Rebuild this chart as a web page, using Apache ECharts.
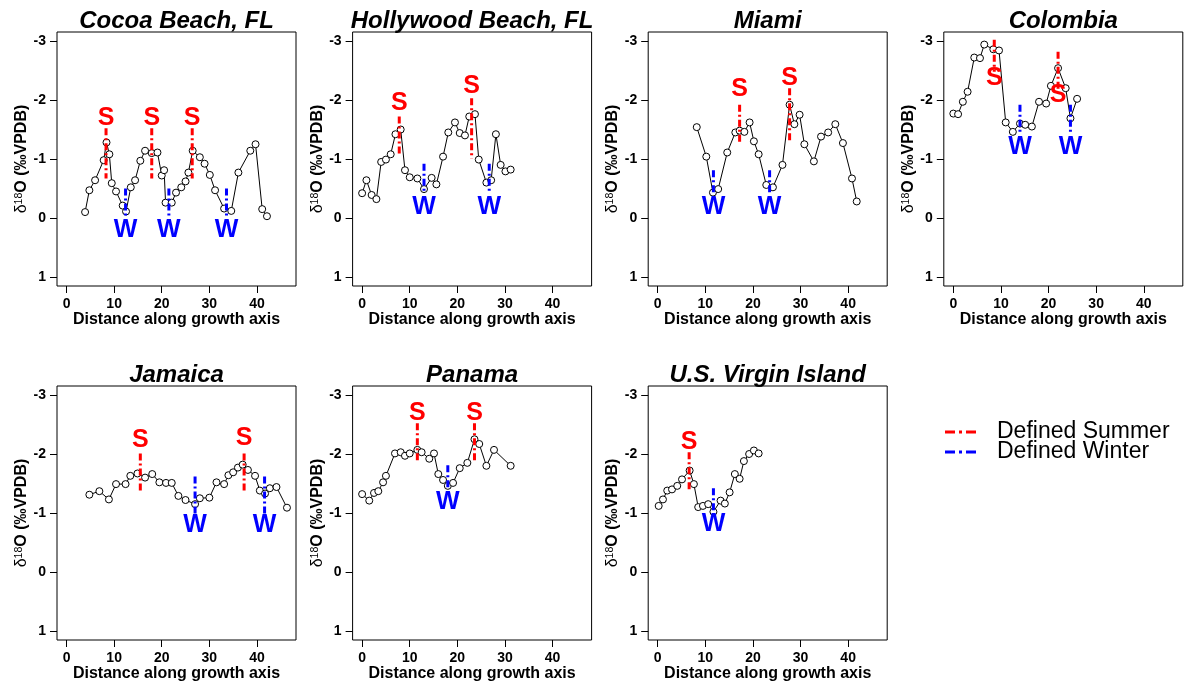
<!DOCTYPE html>
<html>
<head>
<meta charset="utf-8">
<title>Coral δ18O records</title>
<script src="https://cdn.jsdelivr.net/npm/echarts@6/dist/echarts.min.js"></script>
<style>
  html, body { margin: 0; padding: 0; background: #fff; }
  #chart { width: 1184px; height: 687px; }
</style>
</head>
<body>
<div id="chart"></div>
<script>
// Distance along growth axis and δ18O (‰ VPDB) for each site.
// Season marks: [distance, line top, line bottom, letter position] in δ18O units.
const cocoaDist = [3.9,4.8,6.0,7.8,8.4,9.0,9.5,10.4,11.8,12.5,13.5,14.4,15.5,16.5,17.9,19.1,20.0,20.5,20.8,22.1,23.0,24.1,25.0,25.6,26.5,28.0,29.0,30.1,31.2,33.1,34.6,36.1,38.6,39.7,41.1,42.1];
const cocoaD18O = [-0.10,-0.47,-0.64,-0.98,-1.28,-1.08,-0.59,-0.45,-0.21,-0.11,-0.52,-0.64,-0.97,-1.14,-1.10,-1.11,-0.72,-0.81,-0.26,-0.26,-0.43,-0.52,-0.62,-0.77,-1.14,-1.03,-0.92,-0.73,-0.47,-0.16,-0.12,-0.77,-1.14,-1.25,-0.15,-0.03];
const cocoaSummer = [[8.3,-1.52,-0.67,-1.69],[17.9,-1.52,-0.67,-1.69],[26.4,-1.52,-0.67,-1.69]];
const cocoaWinter = [[12.4,-0.50,-0.02,0.20],[21.5,-0.50,-0.02,0.20],[33.6,-0.50,-0.02,0.20]];

const hollywoodDist = [0.0,0.9,2.0,3.0,4.0,5.0,6.0,7.0,8.1,9.0,10.0,11.6,13.0,14.6,15.6,17.0,18.1,19.5,20.5,21.6,22.5,23.7,24.5,26.1,27.1,28.1,29.1,30.1,31.2];
const hollywoodD18O = [-0.42,-0.64,-0.39,-0.32,-0.95,-0.99,-1.08,-1.42,-1.50,-0.81,-0.69,-0.67,-0.49,-0.68,-0.57,-1.04,-1.45,-1.62,-1.44,-1.40,-1.72,-1.76,-0.99,-0.60,-0.64,-1.42,-0.90,-0.79,-0.82];
const hollywoodSummer = [[7.8,-1.72,-1.07,-1.94],[23.0,-2.03,-1.01,-2.23]];
const hollywoodWinter = [[13.0,-0.92,-0.45,-0.18],[26.7,-0.92,-0.45,-0.18]];

const miamiDist = [8.2,10.2,11.6,12.7,14.6,16.3,17.2,18.2,19.3,20.2,21.2,22.8,24.2,26.2,27.7,28.7,29.8,30.8,32.8,34.3,35.8,37.3,38.9,40.8,41.8];
const miamiD18O = [-1.54,-1.04,-0.43,-0.49,-1.11,-1.45,-1.48,-1.46,-1.62,-1.30,-1.08,-0.56,-0.52,-0.90,-1.92,-1.59,-1.75,-1.25,-0.96,-1.38,-1.45,-1.59,-1.27,-0.67,-0.28];
const miamiSummer = [[17.2,-1.92,-1.25,-2.18],[27.7,-2.20,-1.27,-2.37]];
const miamiWinter = [[11.7,-0.81,-0.39,-0.19],[23.5,-0.81,-0.39,-0.19]];

const colombiaDist = [0.0,1.0,2.0,3.0,4.4,5.6,6.5,8.4,9.6,11.0,12.5,14.0,15.1,16.5,18.0,19.5,20.5,22.0,23.6,24.6,26.0];
const colombiaD18O = [-1.77,-1.76,-1.97,-2.14,-2.72,-2.71,-2.94,-2.86,-2.84,-1.62,-1.46,-1.60,-1.58,-1.55,-1.97,-1.94,-2.24,-2.54,-2.20,-1.69,-2.02];
const colombiaSummer = [[8.6,-3.02,-2.48,-2.37],[22.0,-2.82,-2.17,-2.08]];
const colombiaWinter = [[14.0,-1.92,-1.41,-1.21],[24.6,-1.92,-1.41,-1.21]];

const jamaicaDist = [4.8,6.9,8.9,10.4,12.4,13.4,14.9,16.5,18.0,19.5,20.9,22.1,23.5,25.0,27.0,28.0,30.0,31.5,33.1,34.0,35.0,36.0,37.0,38.1,39.6,40.6,41.7,42.7,44.1,46.3];
const jamaicaD18O = [-1.31,-1.37,-1.23,-1.49,-1.49,-1.63,-1.67,-1.60,-1.66,-1.52,-1.51,-1.51,-1.29,-1.22,-1.15,-1.25,-1.26,-1.52,-1.49,-1.64,-1.69,-1.77,-1.82,-1.73,-1.63,-1.38,-1.33,-1.42,-1.44,-1.09];
const jamaicaSummer = [[15.5,-2.01,-1.36,-2.24],[37.3,-2.01,-1.36,-2.27]];
const jamaicaWinter = [[27.0,-1.62,-0.97,-0.80],[41.6,-1.62,-0.97,-0.80]];

const panamaDist = [0.0,1.5,2.5,3.4,4.4,5.0,6.9,8.1,9.0,10.0,11.6,12.5,14.1,15.1,16.0,17.0,18.0,19.1,20.5,22.1,23.6,24.6,26.1,27.7,31.2];
const panamaD18O = [-1.32,-1.21,-1.34,-1.37,-1.52,-1.63,-2.01,-2.03,-1.97,-2.01,-2.07,-2.03,-1.92,-2.01,-1.66,-1.56,-1.46,-1.51,-1.76,-1.85,-2.25,-2.17,-1.80,-2.07,-1.80];
const panamaSummer = [[11.6,-2.52,-1.88,-2.69],[23.6,-2.52,-1.88,-2.69]];
const panamaWinter = [[18.0,-1.81,-1.39,-1.19]];

const usviDist = [0.2,1.1,2.0,3.0,4.1,5.1,6.7,7.6,8.5,9.5,10.6,11.7,13.2,14.1,15.1,16.2,17.2,18.1,19.2,20.2,21.2];
const usviD18O = [-1.12,-1.23,-1.38,-1.40,-1.46,-1.57,-1.72,-1.49,-1.10,-1.12,-1.15,-1.02,-1.21,-1.16,-1.35,-1.66,-1.58,-1.88,-2.00,-2.06,-2.01];
const usviSummer = [[6.6,-2.03,-1.36,-2.20]];
const usviWinter = [[11.7,-1.42,-1.00,-0.82]];

const siteNames = ['Cocoa Beach, FL', 'Hollywood Beach, FL', 'Miami', 'Colombia', 'Jamaica', 'Panama', 'U.S. Virgin Island'];
const distances = [cocoaDist, hollywoodDist, miamiDist, colombiaDist, jamaicaDist, panamaDist, usviDist];
const isotopes = [cocoaD18O, hollywoodD18O, miamiD18O, colombiaD18O, jamaicaD18O, panamaD18O, usviD18O];
const summers = [cocoaSummer, hollywoodSummer, miamiSummer, colombiaSummer, jamaicaSummer, panamaSummer, usviSummer];
const winters = [cocoaWinter, hollywoodWinter, miamiWinter, colombiaWinter, jamaicaWinter, panamaWinter, usviWinter];

const xTicks = [0, 10, 20, 30, 40];
const yTicks = [-3, -2, -1, 0, 1];
const legendLabels = ['Defined Summer', 'Defined Winter'];

const SUMMER_COLOR = '#FF0000';
const WINTER_COLOR = '#0000FF';
const FONT = '"Liberation Sans", Arial, Helvetica, sans-serif';
const DASH = [7, 3, 2, 3];

// Panel layout
const PANEL_LEFT = 57, PANEL_STEP = 295.6, PANEL_W = 239, PANEL_H = 254;
const ROW_TOP = [32, 386];

function markerRenderer(letter, color) {
  return function (params, api) {
    const x = api.value(0);
    const top = api.coord([x, api.value(1)]);
    const bottom = api.coord([x, api.value(2)]);
    const mark = api.coord([x, api.value(3)]);
    return {
      type: 'group',
      children: [
        {
          type: 'line',
          shape: { x1: top[0], y1: top[1], x2: bottom[0], y2: bottom[1] },
          style: { stroke: color, lineWidth: 3, lineDash: DASH }
        },
        {
          type: 'text',
          x: mark[0],
          y: mark[1],
          style: {
            text: letter,
            fill: color,
            font: 'bold 25px ' + FONT,
            align: 'center',
            verticalAlign: 'middle'
          }
        }
      ]
    };
  };
}

const grids = [], xAxes = [], yAxes = [], series = [], titles = [];

siteNames.forEach(function (name, i) {
  const col = i % 4, row = Math.floor(i / 4);
  const left = PANEL_LEFT + col * PANEL_STEP;
  const top = ROW_TOP[row];

  grids.push({
    left: left, top: top, width: PANEL_W, height: PANEL_H,
    show: true, borderColor: '#000', borderWidth: 1, backgroundColor: 'transparent'
  });

  titles.push({
    text: name,
    left: left + PANEL_W / 2,
    top: top - 23,
    padding: 0,
    textAlign: 'center',
    textStyle: { fontFamily: FONT, fontSize: 24, fontWeight: 'bold', fontStyle: 'italic', color: '#000' }
  });

  xAxes.push({
    gridIndex: i, type: 'value', min: -2.0, max: 48.2,
    name: 'Distance along growth axis', nameLocation: 'middle', nameGap: 25,
    nameTextStyle: { fontFamily: FONT, fontSize: 16, fontWeight: 'bold', color: '#000' },
    axisLine: { show: false, onZero: false },
    axisTick: { show: true, inside: false, length: 7, customValues: xTicks, lineStyle: { color: '#000', width: 1 } },
    axisLabel: { customValues: xTicks, margin: 11, fontFamily: FONT, fontSize: 14, fontWeight: 'bold', color: '#000' },
    splitLine: { show: false }
  });

  yAxes.push({
    gridIndex: i, type: 'value', inverse: true, min: -3.153, max: 1.153,
    name: '{d|δ}{s|18}{o|O (‰VPDB)}', nameLocation: 'middle', nameRotate: 90, nameGap: 27,
    nameTextStyle: {
      color: '#000',
      rich: {
        d: { fontFamily: FONT, fontSize: 16, fontWeight: 'normal', color: '#000' },
        s: { fontFamily: FONT, fontSize: 10.5, fontWeight: 'normal', color: '#000', verticalAlign: 'top' },
        o: { fontFamily: FONT, fontSize: 16, fontWeight: 'bold', color: '#000' }
      }
    },
    axisLine: { show: false, onZero: false },
    axisTick: { show: true, inside: false, length: 7, customValues: yTicks, lineStyle: { color: '#000', width: 1 } },
    axisLabel: { customValues: yTicks, margin: 11, fontFamily: FONT, fontSize: 14, fontWeight: 'bold', color: '#000' },
    splitLine: { show: false }
  });

  const points = distances[i].map(function (d, k) { return [d, isotopes[i][k]]; });

  series.push({
    type: 'line', xAxisIndex: i, yAxisIndex: i, data: points,
    symbol: 'circle', symbolSize: 7, showSymbol: true,
    lineStyle: { color: '#000', width: 1 },
    itemStyle: { color: '#fff', borderColor: '#000', borderWidth: 1 },
    z: 2, silent: true
  });

  series.push({
    type: 'custom', name: legendLabels[0], xAxisIndex: i, yAxisIndex: i,
    data: summers[i], renderItem: markerRenderer('S', SUMMER_COLOR), z: 5, silent: true
  });
  series.push({
    type: 'custom', name: legendLabels[1], xAxisIndex: i, yAxisIndex: i,
    data: winters[i], renderItem: markerRenderer('W', WINTER_COLOR), z: 5, silent: true
  });
});

// Key for the season marks
const legendX = 945, legendY = 432, legendRow = 20;
const legendGraphics = [];
[SUMMER_COLOR, WINTER_COLOR].forEach(function (color, k) {
  const y = legendY + k * legendRow;
  legendGraphics.push({
    type: 'line', shape: { x1: legendX, y1: y, x2: legendX + 35, y2: y },
    style: { stroke: color, lineWidth: 3, lineDash: [10, 4, 3, 4] }
  });
  legendGraphics.push({
    type: 'text', x: legendX + 52, y: y,
    style: { text: legendLabels[k], fill: '#000', font: '23px ' + FONT, verticalAlign: 'middle', align: 'left' }
  });
});

const chart = echarts.init(document.getElementById('chart'), null, { renderer: 'canvas' });
chart.setOption({
  animation: false,
  backgroundColor: '#fff',
  title: titles,
  grid: grids,
  xAxis: xAxes,
  yAxis: yAxes,
  series: series,
  graphic: legendGraphics
});
</script>
</body>
</html>
